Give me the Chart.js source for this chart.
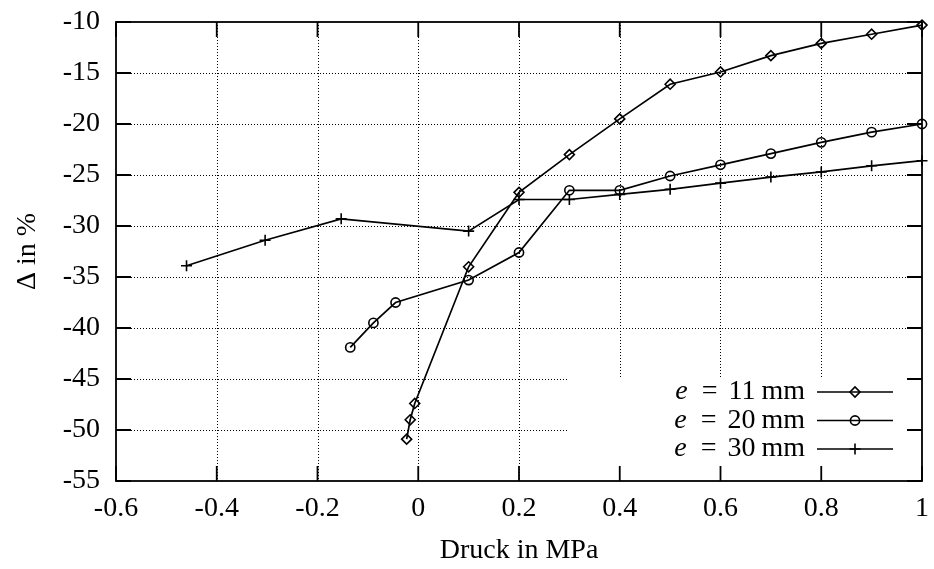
<!DOCTYPE html>
<html>
<head>
<meta charset="utf-8">
<script src="https://cdn.jsdelivr.net/npm/chart.js@4.4.1/dist/chart.umd.min.js"></script>
<style>
html, body { margin: 0; padding: 0; background: #fff; }
canvas { display: block; }
</style>
</head>
<body>
<canvas id="cvDelta" width="934" height="569"></canvas>
<script>
// values
var seriesLabels = ['11 mm', '20 mm', '30 mm'];
var pressure11 = [-0.023, -0.016, -0.007, 0.1, 0.2, 0.3, 0.4, 0.5, 0.6, 0.7, 0.8, 0.9, 1.0];
var delta11 = [-50.9, -49.0, -47.4, -34.0, -26.7, -23.0, -19.5, -16.1, -14.9, -13.3, -12.1, -11.2, -10.3];
var pressure20 = [-0.135, -0.089, -0.045, 0.1, 0.2, 0.3, 0.4, 0.5, 0.6, 0.7, 0.8, 0.9, 1.0];
var delta20 = [-41.9, -39.5, -37.5, -35.3, -32.6, -26.5, -26.5, -25.1, -24.0, -22.9, -21.8, -20.8, -20.0];
var pressure30 = [-0.46, -0.304, -0.153, 0.1, 0.2, 0.3, 0.4, 0.5, 0.6, 0.7, 0.8, 0.9, 1.0];
var delta30 = [-33.9, -31.4, -29.3, -30.5, -27.4, -27.4, -26.9, -26.4, -25.8, -25.2, -24.7, -24.1, -23.6];
var xTickValues = [-0.6, -0.4, -0.2, 0, 0.2, 0.4, 0.6, 0.8, 1];
var yTickValues = [-55, -50, -45, -40, -35, -30, -25, -20, -15, -10];

var serif = "'Liberation Serif', 'DejaVu Serif', serif";
Chart.defaults.font.family = serif;
Chart.defaults.color = '#000';

function toPoints(xs, ys) {
    return xs.map(function (x, i) { return { x: x, y: ys[i] }; });
}

function makeSet(label, xs, ys, style, radius) {
    return {
        label: label,
        data: toPoints(xs, ys),
        showLine: true,
        borderColor: '#000',
        borderWidth: 1.7,
        backgroundColor: 'rgba(0,0,0,0)',
        pointStyle: style,
        pointRadius: radius,
        pointBorderWidth: 1.6,
        pointBorderColor: '#000',
        pointBackgroundColor: 'rgba(0,0,0,0)',
        clip: false
    };
}

// key area sits in the lower right corner and hides the grid there
function keyBox(a) {
    return { left: a.right - 355, top: a.bottom - 103 };
}

var gnuFrame = {
    id: 'gnuFrame',
    beforeDatasetsDraw: function (chart) {
        var ctx = chart.ctx, a = chart.chartArea;
        var xs = chart.scales.x, ys = chart.scales.y;
        var box = keyBox(a);
        ctx.save();
        ctx.strokeStyle = '#000';
        ctx.lineWidth = 1;
        ctx.setLineDash([1, 2]);
        xs.ticks.forEach(function (t) {
            if (t.value <= xs.min || t.value >= xs.max) return;
            var px = Math.round(xs.getPixelForValue(t.value)) + 0.5;
            var end = px > box.left ? box.top : a.bottom;
            ctx.beginPath();
            ctx.moveTo(px, a.top);
            ctx.lineTo(px, end);
            ctx.stroke();
        });
        ys.ticks.forEach(function (t) {
            if (t.value <= ys.min || t.value >= ys.max) return;
            var py = Math.round(ys.getPixelForValue(t.value)) + 0.5;
            var end = py > box.top ? box.left : a.right;
            ctx.beginPath();
            ctx.moveTo(a.left, py);
            ctx.lineTo(end, py);
            ctx.stroke();
        });
        ctx.restore();
    },
    afterDatasetsDraw: function (chart) {
        var ctx = chart.ctx, a = chart.chartArea;
        var xs = chart.scales.x, ys = chart.scales.y;
        var tick = 15;
        ctx.save();
        ctx.strokeStyle = '#000';
        ctx.lineWidth = 1.8;
        ctx.setLineDash([]);
        ctx.strokeRect(a.left, a.top, a.right - a.left, a.bottom - a.top);
        // inward tick marks on all four sides
        ctx.beginPath();
        xs.ticks.forEach(function (t) {
            var px = xs.getPixelForValue(t.value);
            ctx.moveTo(px, a.bottom); ctx.lineTo(px, a.bottom - tick);
            ctx.moveTo(px, a.top); ctx.lineTo(px, a.top + tick);
        });
        ys.ticks.forEach(function (t) {
            var py = ys.getPixelForValue(t.value);
            ctx.moveTo(a.left, py); ctx.lineTo(a.left + tick, py);
            ctx.moveTo(a.right, py); ctx.lineTo(a.right - tick, py);
        });
        ctx.stroke();

        // key: "e = 11 mm" with math-like spacing, then a sample line with its marker
        var textRight = a.right - 117;
        var lineFrom = a.right - 105, lineTo = a.right - 29;
        var up = '28px ' + serif, it = 'italic 28px ' + serif;
        chart.data.datasets.forEach(function (ds, i) {
            var y = a.bottom - 89 + i * 28.5;
            var bits = ds.label.split(' ');
            ctx.fillStyle = '#000';
            ctx.textBaseline = 'middle';
            ctx.textAlign = 'right';
            ctx.font = up;
            var x = textRight;
            ctx.fillText(bits[1], x, y);
            x -= ctx.measureText(bits[1]).width + 6;
            ctx.fillText(bits[0], x, y);
            x -= ctx.measureText(bits[0]).width + 11;
            ctx.fillText('=', x, y);
            x -= ctx.measureText('=').width + 14;
            ctx.font = it;
            ctx.fillText('e', x, y);

            ctx.lineWidth = 1.7;
            ctx.beginPath();
            ctx.moveTo(lineFrom, y);
            ctx.lineTo(lineTo, y);
            ctx.stroke();
            ctx.lineWidth = ds.pointBorderWidth;
            ctx.fillStyle = 'rgba(0,0,0,0)';
            Chart.helpers.drawPoint(ctx, {
                pointStyle: ds.pointStyle,
                radius: ds.pointRadius,
                borderWidth: ds.pointBorderWidth,
                rotation: 0
            }, (lineFrom + lineTo) / 2, y);
        });
        ctx.restore();
    }
};

new Chart(document.getElementById('cvDelta'), {
    type: 'scatter',
    data: {
        datasets: [
            makeSet(seriesLabels[0], pressure11, delta11, 'rectRot', 5),
            makeSet(seriesLabels[1], pressure20, delta20, 'circle', 4.6),
            makeSet(seriesLabels[2], pressure30, delta30, 'cross', 5.5)
        ]
    },
    options: {
        responsive: false,
        animation: false,
        devicePixelRatio: 1,
        layout: { padding: { top: 22, right: 12, left: 0, bottom: 0 } },
        plugins: {
            legend: { display: false },
            tooltip: { enabled: false }
        },
        scales: {
            x: {
                type: 'linear',
                min: -0.6,
                max: 1,
                afterBuildTicks: function (scale) {
                    scale.ticks = xTickValues.map(function (v) { return { value: v }; });
                },
                afterFit: function (scale) {
                    scale.height = 88;
                    scale.paddingLeft = 0;
                    scale.paddingRight = 0;
                },
                grid: { display: false, drawTicks: false },
                border: { display: false },
                ticks: {
                    padding: 11,
                    font: { size: 28 },
                    callback: function (v) { return String(Math.round(v * 10) / 10); }
                },
                title: {
                    display: true,
                    text: 'Druck in MPa',
                    font: { size: 28 },
                    padding: { top: 0, bottom: 2 }
                }
            },
            y: {
                type: 'linear',
                min: -55,
                max: -10,
                afterBuildTicks: function (scale) {
                    scale.ticks = yTickValues.map(function (v) { return { value: v }; });
                },
                afterFit: function (scale) {
                    scale.width = 116;
                    scale.paddingTop = 0;
                    scale.paddingBottom = 0;
                },
                grid: { display: false, drawTicks: false },
                border: { display: false },
                ticks: {
                    padding: 16,
                    font: { size: 28 },
                    callback: function (v) { return String(v); }
                },
                title: {
                    display: true,
                    text: '\u0394 in %',
                    font: { size: 28 },
                    padding: { top: 11, bottom: 0 }
                }
            }
        }
    },
    plugins: [gnuFrame]
});
</script>
</body>
</html>
